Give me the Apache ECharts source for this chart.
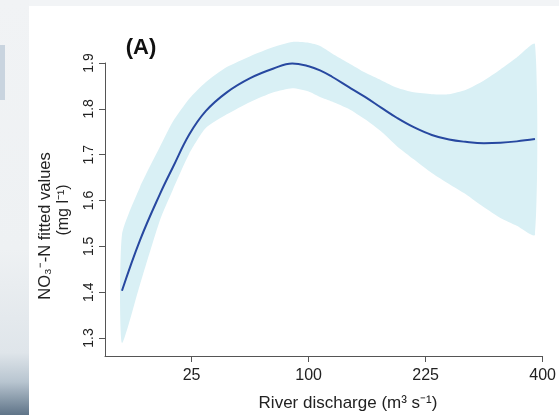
<!DOCTYPE html>
<html><head><meta charset="utf-8">
<script src="https://cdn.jsdelivr.net/npm/echarts@6/dist/echarts.min.js"></script>
<style>html,body{margin:0;padding:0;background:#f2f4f6;}#c{width:559px;height:415px;}</style>
</head><body><div id="c"></div>
<script>
// River discharge (m3 s-1) at which the fitted curve is sampled
const discharge = [4.1, 7.8, 13.3, 17.6, 24, 31.4, 42.3, 56.3, 72.3, 86.5, 100, 110, 121, 137, 154, 172, 190, 210, 233, 256, 279, 306, 331, 357, 387];
// NO3-N fitted values (mg l-1)
const fitted = [1.403, 1.513, 1.614, 1.672, 1.744, 1.795, 1.836, 1.867, 1.888, 1.899, 1.893, 1.884, 1.870, 1.848, 1.826, 1.802, 1.780, 1.760, 1.743, 1.733, 1.728, 1.725, 1.726, 1.729, 1.734];
const upperCI = [1.525, 1.629, 1.717, 1.772, 1.822, 1.858, 1.891, 1.915, 1.935, 1.946, 1.944, 1.937, 1.921, 1.900, 1.879, 1.862, 1.846, 1.836, 1.832, 1.832, 1.841, 1.862, 1.886, 1.912, 1.941];
const lowerCI = [1.289, 1.416, 1.557, 1.623, 1.702, 1.758, 1.788, 1.815, 1.836, 1.845, 1.838, 1.826, 1.816, 1.800, 1.777, 1.750, 1.718, 1.690, 1.660, 1.636, 1.614, 1.585, 1.562, 1.545, 1.525];
const xTicks = [25, 100, 225, 400];
const yTicks = [1.3, 1.4, 1.5, 1.6, 1.7, 1.8, 1.9];

const sq = v => Math.sqrt(v);
const font = '"Liberation Sans", Arial, sans-serif';
const chart = echarts.init(document.getElementById('c'));
const bandData = discharge.map((q, i) => [sq(q), upperCI[i], lowerCI[i]]);

chart.setOption({
  animation: false,
  textStyle: {fontFamily: font},
  grid: {left: 105, right: 14, top: 63, bottom: 59, containLabel: false},
  xAxis: {
    type: 'value', min: 1.30, max: 20,
    splitLine: {show: false},
    axisLine: {show: true, lineStyle: {color: '#555', width: 1}},
    axisTick: {show: true, length: 6, customValues: xTicks.map(sq), lineStyle: {color: '#555'}},
    axisLabel: {customValues: xTicks.map(sq), margin: 12, fontSize: 16, color: '#222', fontFamily: font,
      formatter: v => String(Math.round(v * v))}
  },
  yAxis: {
    type: 'value', min: 1.2607, max: 1.9,
    splitLine: {show: false},
    axisLine: {show: true, lineStyle: {color: '#555', width: 1}},
    axisTick: {show: true, length: 6, customValues: yTicks, lineStyle: {color: '#555'}},
    axisLabel: {customValues: yTicks, rotate: 90, margin: 9, fontSize: 14, color: '#222', fontFamily: font,
      formatter: v => v.toFixed(1)}
  },
  graphic: [
    {type: 'rect', z: -100, shape: {x: 0, y: 0, width: 29, height: 415},
      style: {fill: new echarts.graphic.LinearGradient(0, 0, 0, 1, [
        {offset: 0, color: '#f1f3f5'}, {offset: 0.6, color: '#eef1f3'},
        {offset: 0.85, color: '#dfe5ea'}, {offset: 0.92, color: '#b8c5d0'}, {offset: 1, color: '#5f7488'}])}},
    {type: 'rect', z: -100, shape: {x: 0, y: 45, width: 5, height: 55}, style: {fill: '#c9d4df'}},
    {type: 'rect', z: -99, shape: {x: 29, y: 6, width: 530, height: 409}, style: {fill: '#ffffff'}},
    {type: 'text', x: 141, y: 48, style: {text: '(A)', font: 'bold 22px ' + font, fill: '#111', align: 'center', verticalAlign: 'middle'}},
    {type: 'text', x: 45, y: 226, rotation: Math.PI / 2, style: {text: 'NO₃⁻-N fitted values', font: '16.5px ' + font, fill: '#222', align: 'center', verticalAlign: 'middle'}},
    {type: 'text', x: 64, y: 210, rotation: Math.PI / 2, style: {text: '(mg l⁻¹)', font: '16px ' + font, fill: '#222', align: 'center', verticalAlign: 'middle'}},
    {type: 'text', x: 348, y: 403, style: {text: 'River discharge (m³ s⁻¹)', font: '17px ' + font, fill: '#222', align: 'center', verticalAlign: 'middle'}}
  ],
  series: [
    {
      type: 'custom', clip: false, silent: true, z: 1,
      data: bandData,
      renderItem: (params, api) => {
        if (params.dataIndex !== 0) return null;
        const pts = [];
        for (let i = 0; i < bandData.length; i++) pts.push(api.coord([bandData[i][0], bandData[i][1]]));
        for (let i = bandData.length - 1; i >= 0; i--) pts.push(api.coord([bandData[i][0], bandData[i][2]]));
        return {type: 'polygon', shape: {points: pts, smooth: 0.2}, style: {fill: '#d9f0f5'}};
      }
    },
    {
      type: 'line', clip: false, silent: true, z: 3,
      data: discharge.map((q, i) => [sq(q), fitted[i]]),
      smooth: 0.4, showSymbol: false,
      lineStyle: {color: '#2748a0', width: 2}
    }
  ]
});
</script></body></html>
